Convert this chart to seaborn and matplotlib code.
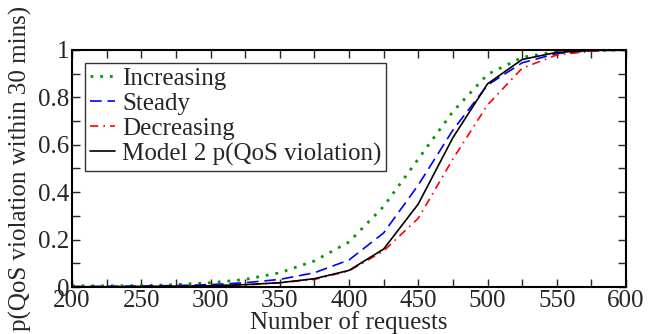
import numpy as np
import pandas as pd
import matplotlib
matplotlib.use('Agg')
import matplotlib.pyplot as plt
from matplotlib.ticker import MultipleLocator, FormatStrFormatter
import seaborn as sns

# data
requests = [200, 225, 250, 275, 300, 325, 350, 375, 400, 425, 450, 475, 500, 525, 550, 575, 600]
increasing = [0.005, 0.005, 0.006, 0.01, 0.018, 0.032, 0.06, 0.11, 0.19, 0.34, 0.54, 0.74, 0.897, 0.969, 0.993, 0.999, 1.0]
steady = [0.002, 0.003, 0.004, 0.006, 0.01, 0.018, 0.032, 0.06, 0.114, 0.228, 0.43, 0.662, 0.852, 0.946, 0.985, 0.997, 1.0]
decreasing = [0.001, 0.001, 0.002, 0.003, 0.005, 0.008, 0.018, 0.032, 0.068, 0.152, 0.29, 0.54, 0.768, 0.923, 0.979, 0.995, 1.0]
model2 = [0.001, 0.001, 0.002, 0.003, 0.005, 0.01, 0.018, 0.035, 0.07, 0.16, 0.35, 0.63, 0.857, 0.96, 0.99, 0.998, 1.0]

series = ['Increasing', 'Steady', 'Decreasing', 'Model 2 p(QoS violation)']
values = [increasing, steady, decreasing, model2]

df = pd.concat([pd.DataFrame({'requests': requests, 'p': v, 'series': s})
                for s, v in zip(series, values)])

sns.set_style('ticks')
plt.rcParams['font.family'] = ['Liberation Serif', 'DejaVu Serif']
plt.rcParams['font.size'] = 18

colors = {'Increasing': '#009900', 'Steady': '#0000ff',
          'Decreasing': '#ff0000', 'Model 2 p(QoS violation)': 'black'}
styles = {'Increasing': (0, (1, 2.5)), 'Steady': (0, (7, 3.5)),
          'Decreasing': (0, (5, 3, 1, 3)), 'Model 2 p(QoS violation)': '-'}
widths = {'Increasing': 2.0, 'Steady': 1.2, 'Decreasing': 1.2, 'Model 2 p(QoS violation)': 1.2}

fig = plt.figure(figsize=(6.61, 3.34), dpi=100)
ax = fig.add_axes([72/661, 47/334, 554/661, 237/334])

for s in series:
    sns.lineplot(data=df[df['series'] == s], x='requests', y='p', ax=ax,
                 color=colors[s], linestyle=styles[s], linewidth=widths[s],
                 label=s)

ax.set_xlim(200, 600)
ax.set_ylim(0, 1)
ax.xaxis.set_major_locator(MultipleLocator(50))
ax.xaxis.set_minor_locator(MultipleLocator(25))
ax.yaxis.set_major_locator(MultipleLocator(0.2))
ax.yaxis.set_minor_locator(MultipleLocator(0.1))
ax.yaxis.set_major_formatter(FormatStrFormatter('%g'))
ax.tick_params(which='both', direction='in', top=True, right=True,
               length=6, width=1, labelsize=18, pad=2)
for sp in ax.spines.values():
    sp.set_linewidth(1.5)
    sp.set_color('black')

ax.set_xlabel('Number of requests', fontsize=18)
ax.set_ylabel('p(QoS violation within 30 mins)', fontsize=18)
ax.xaxis.set_label_coords(0.5, -0.1)
ax.yaxis.set_label_coords(-0.072, 0.5)

leg = ax.legend(loc='upper left', fontsize=18, frameon=True, fancybox=False,
                handlelength=1.0, handletextpad=0.3, labelspacing=0.1,
                borderpad=0.2, borderaxespad=0.5)
leg.get_frame().set_edgecolor('black')
leg.get_frame().set_linewidth(1.0)

fig.savefig('out.png', dpi=100)
